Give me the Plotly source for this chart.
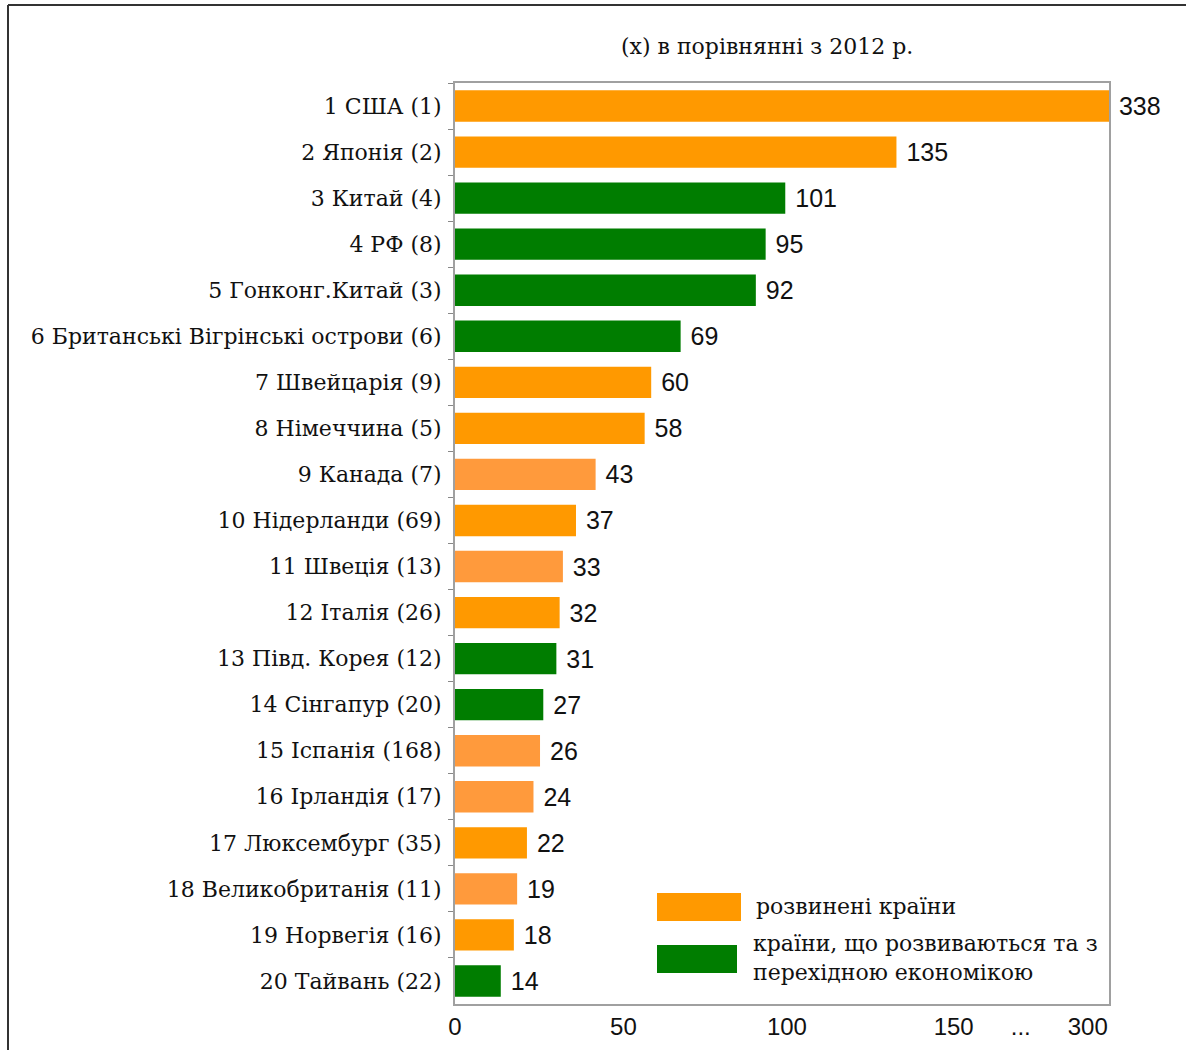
import numpy as np
import plotly.graph_objects as go

# ---------------- data ----------------
countries = [
    "1 США (1)", "2 Японія (2)", "3 Китай (4)", "4 РФ (8)", "5 Гонконг.Китай (3)",
    "6 Британські Вігрінські острови (6)", "7 Швейцарія (9)", "8 Німеччина (5)",
    "9 Канада (7)", "10 Нідерланди (69)", "11 Швеція (13)", "12 Італія (26)",
    "13 Півд. Корея (12)", "14 Сінгапур (20)", "15 Іспанія (168)", "16 Ірландія (17)",
    "17 Люксембург (35)", "18 Великобританія (11)", "19 Норвегія (16)", "20 Тайвань (22)",
]
values = [338, 135, 101, 95, 92, 69, 60, 58, 43, 37, 33, 32, 31, 27, 26, 24, 22, 19, 18, 14]
groups = ["dev", "dev", "trans", "trans", "trans", "trans", "dev", "dev", "dev", "dev",
          "dev", "dev", "trans", "trans", "dev", "dev", "dev", "dev", "dev", "trans"]
x_tick_vals = [0, 51.5, 101.5, 152.5, 173, 193.5]
x_tick_text = ["0", "50", "100", "150", "...", "300"]
legend_labels = ["розвинені країни", "країни, що розвиваються та з<br>перехідною економікою"]
subtitle = "(x) в порівнянні з 2012 р."

# ---------------- style ----------------
ORANGE = "#FF9900"
ORANGE_LIGHT = "#FF9A3C"
GREEN = "#007D00"
light_shade = {"9 Канада (7)", "11 Швеція (13)", "15 Іспанія (168)",
               "16 Ірландія (17)", "18 Великобританія (11)"}
bar_colors = []
for c, g in zip(countries, groups):
    if g == "trans":
        bar_colors.append(GREEN)
    elif c in light_shade:
        bar_colors.append(ORANGE_LIGHT)
    else:
        bar_colors.append(ORANGE)

X_MAX = 200  # broken axis: bars beyond this are cut at the frame
x_plot = np.minimum(np.array(values, dtype=float), X_MAX)

SERIF = "DejaVu Serif, Liberation Serif, serif"
SANS = "Liberation Sans, Arial, sans-serif"

fig = go.Figure()
fig.add_trace(go.Bar(
    y=countries, x=x_plot, orientation="h",
    marker=dict(color=bar_colors, line=dict(width=0)),
    text=[" " + str(v) for v in values],
    textposition="outside",
    textfont=dict(family=SANS, size=25, color="#111"),
    cliponaxis=False,
    showlegend=False,
    hoverinfo="skip",
))

W, H = 1186, 1050
L, R, T, B = 455, 77, 83, 46
pw, ph = W - L - R, H - T - B

def px(x):
    return (x - L) / pw

def py(y):
    return (H - B - y) / ph

shapes = []
# outer frame (left and top edges)
shapes.append(dict(type="line", xref="paper", yref="paper", x0=px(8), x1=px(8),
                   y0=py(5), y1=py(1052), line=dict(color="#333", width=2)))
shapes.append(dict(type="line", xref="paper", yref="paper", x0=px(8), x1=px(1190),
                   y0=py(5), y1=py(5), line=dict(color="#333", width=2)))
# legend swatches
shapes.append(dict(type="rect", xref="paper", yref="paper", x0=px(657), x1=px(741),
                   y0=py(921), y1=py(893), fillcolor=ORANGE, line=dict(width=0)))
shapes.append(dict(type="rect", xref="paper", yref="paper", x0=px(657), x1=px(737),
                   y0=py(973), y1=py(945), fillcolor=GREEN, line=dict(width=0)))

annotations = [
    dict(text=subtitle, xref="paper", yref="paper", x=px(767), y=py(47),
         xanchor="center", yanchor="middle", showarrow=False,
         font=dict(family=SERIF, size=22, color="#111")),
    dict(text=legend_labels[0], xref="paper", yref="paper", x=px(754), y=py(906),
         xanchor="left", yanchor="middle", showarrow=False,
         font=dict(family=SERIF, size=22, color="#111")),
    dict(text=legend_labels[1], xref="paper", yref="paper", x=px(751), y=py(958),
         xanchor="left", yanchor="middle", showarrow=False, align="left",
         font=dict(family=SERIF, size=22, color="#111")),
]

fig.update_layout(
    width=W, height=H,
    margin=dict(l=L, r=R, t=T, b=B, autoexpand=False),
    paper_bgcolor="white", plot_bgcolor="white",
    bargap=0.32,
    shapes=shapes,
    annotations=annotations,
    uniformtext=dict(mode=False),
)
fig.update_xaxes(
    range=[0, X_MAX], tickvals=x_tick_vals, ticktext=x_tick_text,
    showgrid=False, zeroline=False, ticks="",
    showline=True, mirror=True, linecolor="#a0a0a0", linewidth=2,
    tickfont=dict(family=SANS, size=24, color="#111"),
)
fig.update_yaxes(
    autorange="reversed", showgrid=False, zeroline=False,
    ticks="outside", tickson="boundaries", ticklen=5, tickcolor="#888", tickwidth=1,
    showline=True, mirror=True, linecolor="#a0a0a0", linewidth=2,
    tickfont=dict(family=SERIF, size=22, color="#111"),
    ticklabelstandoff=7,
)

fig.write_html("out.html")
